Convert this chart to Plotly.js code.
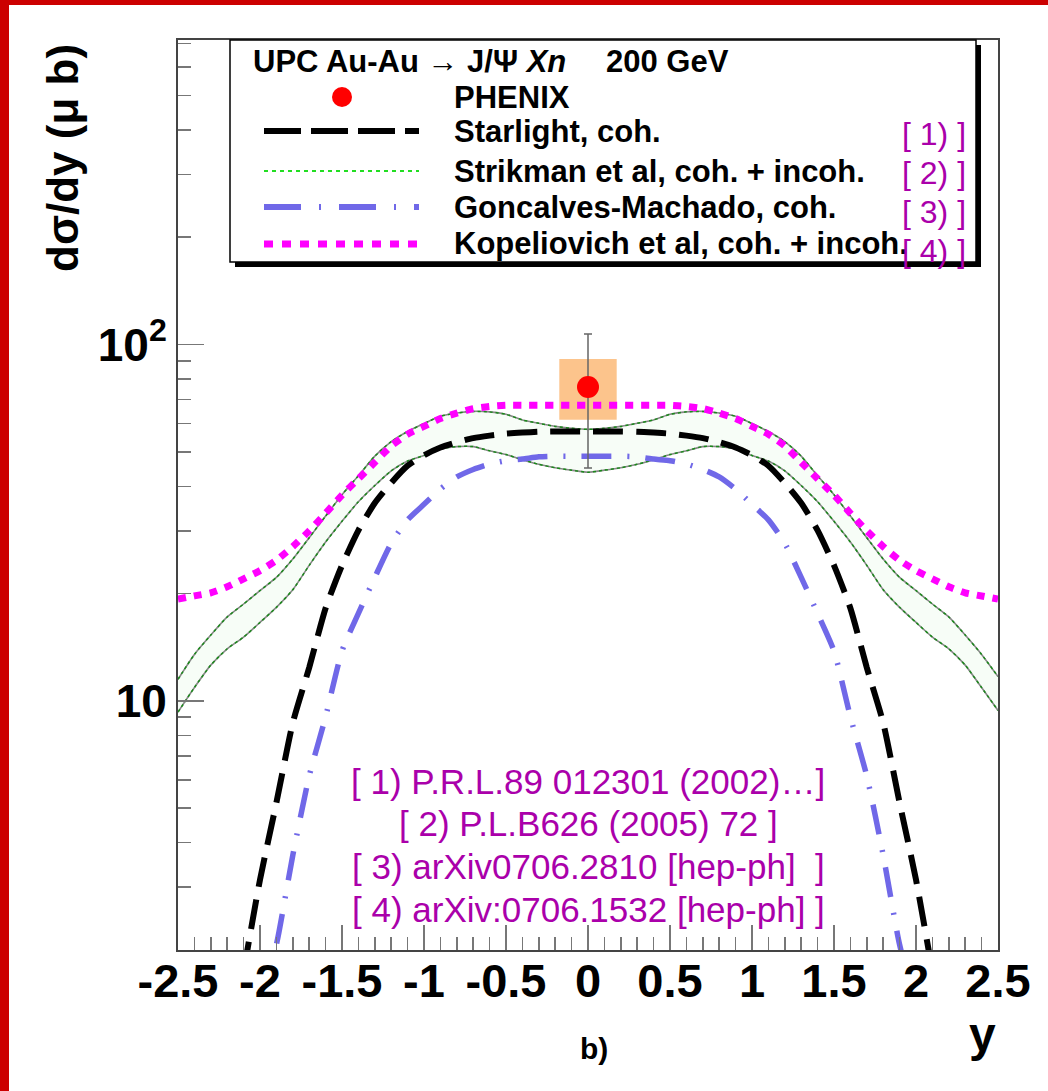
<!DOCTYPE html>
<html>
<head>
<meta charset="utf-8">
<script src="https://cdn.plot.ly/plotly-3.0.1.min.js"></script>
<style>
html,body{margin:0;padding:0;background:#fff;overflow:hidden;}
#wrap{position:relative;width:1048px;height:1091px;}
#chart{position:absolute;left:0;top:0;width:1048px;height:1091px;}
.redL{position:absolute;left:0;top:0;width:9px;height:1091px;background:#cc0000;z-index:5;}
.redT{position:absolute;left:0;top:0;width:1048px;height:5px;background:#cc0000;z-index:5;}
</style>
</head>
<body>
<div id="wrap"><div id="chart"></div><div class="redL"></div><div class="redT"></div></div>
<script>
// ---- data ----
const yGrid = [-2.5,-2.4,-2.3,-2.2,-2.1,-2.0,-1.9,-1.8,-1.7,-1.6,-1.5,-1.4,-1.3,-1.2,-1.1,-1.0,-0.9,-0.8,-0.7,-0.6,-0.5,-0.4,-0.3,-0.2,-0.1,0.0,
               0.1,0.2,0.3,0.4,0.5,0.6,0.7,0.8,0.9,1.0,1.1,1.2,1.3,1.4,1.5,1.6,1.7,1.8,1.9,2.0,2.1,2.2,2.3,2.4,2.5];

const strikmanUpper = [11.5,13.5,15.3,17.2,18.7,20.4,22.2,25.0,28.7,33.0,37.9,42.8,48.6,53.4,57.0,60.0,62.9,64.2,64.9,64.7,63.7,61.4,60.1,58.9,58.2,57.8,
                       58.2,58.9,60.1,61.4,63.7,64.7,64.9,64.2,62.9,60.0,57.0,53.4,48.6,42.8,37.9,33.0,28.7,25.0,22.2,20.4,18.7,17.2,15.3,13.5,11.7];
const strikmanLower = [9.3,10.9,12.6,14.0,15.1,16.6,18.3,20.5,24.0,27.9,31.9,36.2,40.2,44.2,47.1,48.8,51.0,51.7,51.7,50.3,49.1,47.5,46.1,45.1,44.4,43.8,
                       44.4,45.1,46.1,47.5,49.1,50.3,51.7,51.7,51.0,48.8,47.1,44.2,40.2,36.2,31.9,27.9,24.0,20.5,18.3,16.6,15.1,14.0,12.6,10.9,9.4];
const kopeliovich = [19.3,19.7,20.1,20.9,22.0,23.2,24.8,27.1,30.0,33.6,37.8,42.0,46.7,51.9,56.0,58.9,62.0,64.2,66.1,67.0,67.5,67.5,67.5,67.5,67.5,67.5,
                     67.5,67.5,67.5,67.5,67.5,67.0,66.1,64.2,62.0,58.9,56.0,51.9,46.7,42.0,37.8,33.6,30.0,27.1,24.8,23.2,22.0,20.9,20.1,19.7,19.3];

const starlightY = [-2.1,-2.0,-1.9,-1.8,-1.7,-1.6,-1.5,-1.4,-1.3,-1.2,-1.1,-1.0,-0.9,-0.8,-0.7,-0.6,-0.5,-0.4,-0.3,-0.2,-0.1,0.0,
                    0.1,0.2,0.3,0.4,0.5,0.6,0.7,0.8,0.9,1.0,1.1,1.2,1.3,1.4,1.5,1.6,1.7,1.8,1.9,2.0,2.1];
const starlight = [1.74,3.15,5.18,8.68,12.4,18.2,24.0,30.1,35.9,40.9,45.7,48.9,51.4,53.2,54.6,55.5,56.2,56.6,56.9,57.0,57.0,57.0,
                   57.0,57.0,56.9,56.6,56.2,55.5,54.6,53.2,51.4,48.9,45.7,40.9,35.9,30.1,24.0,18.2,12.4,8.68,5.18,3.15,1.74];

const goncalvesY = [-2.0,-1.9,-1.8,-1.7,-1.6,-1.5,-1.4,-1.3,-1.2,-1.1,-1.0,-0.9,-0.8,-0.7,-0.6,-0.5,-0.4,-0.3,-0.2,-0.1,0.0,
                    0.1,0.2,0.3,0.4,0.5,0.6,0.7,0.8,0.9,1.0,1.1,1.2,1.3,1.4,1.5,1.6,1.7,1.8,1.9,2.0];
const goncalves = [1.4,2.07,3.69,6.15,9.02,13.8,17.6,22.2,27.7,32.2,35.6,39.3,42.5,44.6,46.2,47.2,47.7,48.4,48.6,48.6,48.6,
                   48.6,48.6,48.4,47.7,47.2,46.2,44.6,42.5,39.3,35.6,32.2,27.7,22.2,17.6,13.8,9.02,6.15,3.69,2.07,1.4];

const phenixY = [0.0];
const phenixVal = [76];
const phenixStatUp = [31];
const phenixStatDown = [31];
const phenixSysUp = [15];
const phenixSysDown = [14.5];
const phenixBinHalf = [0.175];

const xTickVals = [-2.5,-2,-1.5,-1,-0.5,0,0.5,1,1.5,2,2.5];
const xTickText = ['-2.5','-2','-1.5','-1','-0.5','0','0.5','1','1.5','2','2.5'];
const yTickVals = [10,100];
const yTickText = ['10','10<sup>2</sup>'];
const yMinorVals = [2,3,4,5,6,7,8,9,20,30,40,50,60,70,80,90,200,300,400,500,600,700];

const legendNames = ['PHENIX','Starlight, coh.','Strikman et al, coh. + incoh.','Goncalves-Machado, coh.','Kopeliovich et al, coh. + incoh.'];
const refTags = ['[ 1) ]','[ 2) ]','[ 3) ]','[ 4) ]'];
const refLines = ['[ 1) P.R.L.89 012301 (2002)\u2026]','[ 2) P.L.B626 (2005) 72 ]','[ 3) arXiv0706.2810 [hep-ph] \u00a0]','[ 4) arXiv:0706.1532 [hep-ph] ]'];

// ---- colours / styles ----
const cBlack = '#000000', cGreen = '#1a8a1a', cBlue = 'rgb(112,104,232)', cMag = '#ff00ff', cRef = '#aa00aa';
const dashStar = '30px,13px', dashGon = '30px,16px,2px,16px', dashKop = '8px,8px';
const FONT = 'Liberation Sans, Arial, Helvetica, sans-serif';

// systematic box from data
const sx = [phenixY[0]-phenixBinHalf[0], phenixY[0]+phenixBinHalf[0], phenixY[0]+phenixBinHalf[0], phenixY[0]-phenixBinHalf[0], phenixY[0]-phenixBinHalf[0]];
const sy = [phenixVal[0]-phenixSysDown[0], phenixVal[0]-phenixSysDown[0], phenixVal[0]+phenixSysUp[0], phenixVal[0]+phenixSysUp[0], phenixVal[0]-phenixSysDown[0]];

const traces = [
  {x: sx, y: sy, type:'scatter', mode:'lines', fill:'toself', fillcolor:'rgb(252,196,140)', line:{width:0, color:'rgb(252,196,140)'}, hoverinfo:'skip', showlegend:false},
  {x: yGrid, y: strikmanLower, type:'scatter', mode:'lines', line:{width:0, shape:'spline', smoothing:0.6}, showlegend:false, hoverinfo:'skip'},
  {x: yGrid, y: strikmanUpper, type:'scatter', mode:'lines', fill:'tonexty', fillcolor:'rgba(190,240,190,0.13)', line:{width:0, shape:'spline', smoothing:0.6}, showlegend:false, hoverinfo:'skip'},
  {x: yGrid, y: strikmanUpper, type:'scatter', mode:'lines', line:{color:'#888', width:1.6, shape:'spline', smoothing:0.6}, showlegend:false},
  {x: yGrid, y: strikmanLower, type:'scatter', mode:'lines', line:{color:'#888', width:1.6, shape:'spline', smoothing:0.6}, showlegend:false},
  {x: yGrid, y: strikmanUpper, type:'scatter', mode:'lines', name:legendNames[2], line:{color:cGreen, width:1.5, dash:'3px,3px', shape:'spline', smoothing:0.6}, showlegend:false},
  {x: yGrid, y: strikmanLower, type:'scatter', mode:'lines', line:{color:cGreen, width:1.5, dash:'3px,3px', shape:'spline', smoothing:0.6}, showlegend:false},
  {x: starlightY, y: starlight, type:'scatter', mode:'lines', name:legendNames[1], line:{color:cBlack, width:6, dash:dashStar, shape:'spline', smoothing:0.6}, showlegend:false},
  {x: goncalvesY, y: goncalves, type:'scatter', mode:'lines', name:legendNames[3], line:{color:cBlue, width:5.5, dash:dashGon, shape:'spline', smoothing:0.6}, showlegend:false},
  {x: yGrid, y: kopeliovich, type:'scatter', mode:'lines', name:legendNames[4], line:{color:cMag, width:7, dash:dashKop, shape:'spline', smoothing:0.6}, showlegend:false},
  {x: phenixY, y: phenixVal, type:'scatter', mode:'markers', name:legendNames[0], marker:{color:'#ff0000', size:22},
   error_y:{type:'data', symmetric:false, array:phenixStatUp, arrayminus:phenixStatDown, color:'#666', thickness:1.5, width:4}, showlegend:false}
];

// paper helpers for layout decoration (legend box)
const PL=178, PR=998, PT=40, PB=950;
const px = v => (v-PL)/(PR-PL);
const py = v => (PB-v)/(PB-PT);

const rowY = [97,131,171,207,244];
const tagY = [134,173,212,251];
const shapes = [
  {type:'rect', xref:'paper', yref:'paper', x0:px(235), x1:px(981), y0:py(267), y1:py(45), fillcolor:'#000', line:{width:0}},
  {type:'rect', xref:'paper', yref:'paper', x0:px(230), x1:px(976), y0:py(262), y1:py(40), fillcolor:'#fff', line:{width:1.5, color:'#000'}},
  {type:'line', xref:'paper', yref:'paper', x0:px(264), x1:px(419), y0:py(rowY[1]), y1:py(rowY[1]), line:{color:cBlack, width:6, dash:'37px,10px'}},
  {type:'line', xref:'paper', yref:'paper', x0:px(264), x1:px(419), y0:py(rowY[2]), y1:py(rowY[2]), line:{color:'#22dd22', width:2, dash:'4px,4px'}},
  {type:'line', xref:'paper', yref:'paper', x0:px(264), x1:px(419), y0:py(rowY[3]), y1:py(rowY[3]), line:{color:cBlue, width:6, dash:'37px,18px,2px,18px'}},
  {type:'line', xref:'paper', yref:'paper', x0:px(264), x1:px(419), y0:py(rowY[4]), y1:py(rowY[4]), line:{color:cMag, width:7, dash:'9px,9px'}},
  {type:'circle', xref:'paper', yref:'paper', xsizemode:'pixel', ysizemode:'pixel', xanchor:px(342), yanchor:py(rowY[0]), x0:-10, x1:10, y0:-10, y1:10, fillcolor:'#ff0000', line:{width:0}}
];

const LFS = 31;
const ann = [];
ann.push({xref:'paper', yref:'paper', x:px(251), y:py(61), xanchor:'left', yanchor:'middle', showarrow:false,
  text:'UPC Au-Au \u2192 J/\u03a8 <i>Xn</i>', font:{family:FONT, size:LFS, weight:'bold', color:'#000'}});
ann.push({xref:'paper', yref:'paper', x:px(604), y:py(61), xanchor:'left', yanchor:'middle', showarrow:false,
  text:'200 GeV', font:{family:FONT, size:LFS, weight:'bold', color:'#000'}});
legendNames.forEach((t,i)=>{
  ann.push({xref:'paper', yref:'paper', x:px(452), y:py(rowY[i]), xanchor:'left', yanchor:'middle', showarrow:false,
    text:t, font:{family:FONT, size:LFS, weight:'bold', color:'#000'}});
});
refTags.forEach((t,i)=>{
  ann.push({xref:'paper', yref:'paper', x:px(968), y:py(tagY[i]), xanchor:'right', yanchor:'middle', showarrow:false,
    text:t, font:{family:FONT, size:32, color:cRef}});
});
const refRowY = [781,823,866,909];
refLines.forEach((t,i)=>{
  ann.push({xref:'paper', yref:'paper', x:px(588), y:py(refRowY[i]), xanchor:'center', yanchor:'middle', showarrow:false,
    text:t, font:{family:FONT, size:35, color:cRef}});
});
ann.push({xref:'paper', yref:'paper', x:px(62), y:py(42), xanchor:'center', yanchor:'top', textangle:-90, showarrow:false,
  text:'d\u03c3/dy (\u03bc b)', font:{family:FONT, size:44, weight:'bold', color:'#000'}});
ann.push({xref:'paper', yref:'paper', x:px(998), y:py(1034), xanchor:'right', yanchor:'middle', showarrow:false,
  text:'y', font:{family:FONT, size:48, weight:'bold', color:'#000'}});
ann.push({xref:'paper', yref:'paper', x:px(594), y:py(1048), xanchor:'center', yanchor:'middle', showarrow:false,
  text:'b)', font:{family:FONT, size:30, weight:'bold', color:'#000'}});

const layout = {
  width:1048, height:1091,
  margin:{l:178, r:50, t:40, b:141, pad:0},
  paper_bgcolor:'#fff', plot_bgcolor:'#fff',
  showlegend:false,
  xaxis:{range:[-2.5,2.5], showgrid:false, zeroline:false, showline:true, mirror:true, linecolor:'#444', linewidth:2,
    tickmode:'array', tickvals:xTickVals, ticktext:xTickText, ticks:'inside', ticklen:25, tickwidth:1.5, tickcolor:'#777',
    ticklabelstandoff:-11,
    tickfont:{family:FONT, size:47, weight:'bold', color:'#000'},
    minor:{tickmode:'linear', tick0:-2.5, dtick:0.1, ticks:'inside', ticklen:13, tickwidth:1.5, tickcolor:'#777', showgrid:false}},
  yaxis:{type:'log', range:[Math.log10(2.0), Math.log10(715)], showgrid:false, zeroline:false, showline:true, mirror:true, linecolor:'#444', linewidth:2,
    tickmode:'array', tickvals:yTickVals, ticktext:yTickText, ticks:'inside', ticklen:26, tickwidth:1.5, tickcolor:'#777',
    ticklabelstandoff:0,
    tickfont:{family:FONT, size:46, weight:'bold', color:'#000'},
    minor:{tickmode:'array', tickvals:yMinorVals, ticks:'inside', ticklen:13, tickwidth:1.5, tickcolor:'#777', showgrid:false}},
  shapes:shapes,
  annotations:ann
};

Plotly.newPlot('chart', traces, layout, {displayModeBar:false, staticPlot:true});
</script>
</body>
</html>
